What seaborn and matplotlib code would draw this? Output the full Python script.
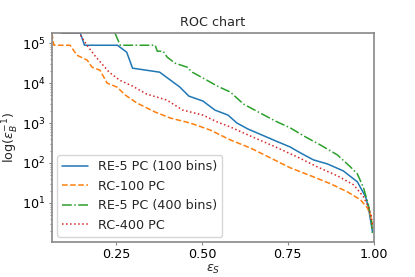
import matplotlib
matplotlib.use("Agg")
import matplotlib.pyplot as plt
import seaborn as sns
import numpy as np
import pandas as pd

# ---- data ----
blue_x = [0.091, 0.146, 0.158, 0.254, 0.281, 0.298, 0.377, 0.436, 0.462, 0.503, 0.538, 0.576,
          0.602, 0.634, 0.675, 0.722, 0.757, 0.787, 0.825, 0.866, 0.912, 0.953, 0.977, 0.985,
          0.991, 0.997]
blue_y = [1.78e5, 1.78e5, 89000, 89000, 59600, 23700, 18800, 7940, 4730, 3550, 2110, 1580,
          1000, 708, 500, 335, 251, 178, 119, 94, 63, 33.5, 14.1, 7.9, 3.8, 1.9]

orange_x = [0.063, 0.069, 0.116, 0.136, 0.166, 0.180, 0.203, 0.224, 0.253, 0.277, 0.311, 0.364,
            0.408, 0.466, 0.524, 0.583, 0.641, 0.700, 0.758, 0.825, 0.875, 0.924, 0.962, 0.982,
            0.991, 0.997]
orange_y = [1.78e5, 89000, 89000, 50100, 37600, 25100, 21100, 10000, 7940, 5010, 3160, 1880,
            1330, 1000, 668, 376, 237, 133, 75, 44.7, 29.9, 18.8, 11.9, 7.5, 5.0, 2.8]

green_x = [0.247, 0.262, 0.364, 0.370, 0.387, 0.399, 0.422, 0.457, 0.472, 0.504, 0.545, 0.583,
           0.621, 0.670, 0.714, 0.758, 0.802, 0.845, 0.895, 0.933, 0.953, 0.971, 0.985, 0.994,
           0.997]
green_y = [1.78e5, 89000, 89000, 63100, 63100, 44700, 31600, 25100, 18800, 13300, 8410, 5960,
           2990, 1780, 1120, 750, 447, 282, 158, 79, 53, 23.7, 8.9, 3.35, 1.6]

red_x = [0.091, 0.143, 0.163, 0.187, 0.207, 0.230, 0.260, 0.298, 0.339, 0.398, 0.444, 0.503,
         0.545, 0.583, 0.641, 0.708, 0.778, 0.837, 0.895, 0.942, 0.971, 0.985, 0.994, 0.997]
red_y = [1.78e5, 1.78e5, 94400, 50100, 31600, 18800, 11900, 8410, 5310, 3760, 2110, 1580,
         1060, 794, 473, 266, 141, 79, 47.3, 28.2, 14.1, 7.9, 4.5, 2.4]

labels = ["RE-5 PC (100 bins)", "RC-100 PC", "RE-5 PC (400 bins)", "RC-400 PC"]
series = [(blue_x, blue_y), (orange_x, orange_y), (green_x, green_y), (red_x, red_y)]
colors = ["#1f77b4", "#ff7f0e", "#2ca02c", "#d62728"]
styles = ["-", "--", "-.", ":"]

sns.set_style("ticks", {"axes.edgecolor": "#888888", "xtick.color": "#888888",
                        "ytick.color": "#888888"})
plt.rcParams["font.family"] = ["DejaVu Sans"]
fs = 9.2

fig, ax = plt.subplots(figsize=(4.15, 2.77), dpi=100)
fig.subplots_adjust(left=0.125, right=0.9, top=0.88, bottom=0.127)

for (xs, ys), lab, c, ls in zip(series, labels, colors, styles):
    df = pd.DataFrame({"x": xs, "y": ys})
    sns.lineplot(data=df, x="x", y="y", ax=ax, color=c, linestyle=ls, linewidth=1.1,
                 label=lab, sort=False, estimator=None)

ax.set_yscale("log")
ax.set_xlim(0.063, 1.0)
ax.set_ylim(1.05, 1.78e5)
ax.set_xticks([0.25, 0.5, 0.75, 1.0])
ax.set_xticklabels(["0.25", "0.50", "0.75", "1.00"])
ax.tick_params(axis="both", which="major", labelsize=fs, labelcolor="black",
               length=2.5, width=0.8, pad=2.2)
ax.tick_params(axis="y", which="minor", length=1.8, width=0.6)
ax.set_xlabel(r"$\epsilon_S$", fontsize=fs, labelpad=1)
ax.set_ylabel(r"log($\epsilon_B^{-1}$)", fontsize=fs, labelpad=0.5)
ax.set_title("ROC chart", fontsize=fs, pad=5)
for s in ax.spines.values():
    s.set_linewidth(1.2)
ax.legend(loc="lower left", fontsize=fs, frameon=True, borderaxespad=0.4)

fig.savefig("out.png", dpi=100)
